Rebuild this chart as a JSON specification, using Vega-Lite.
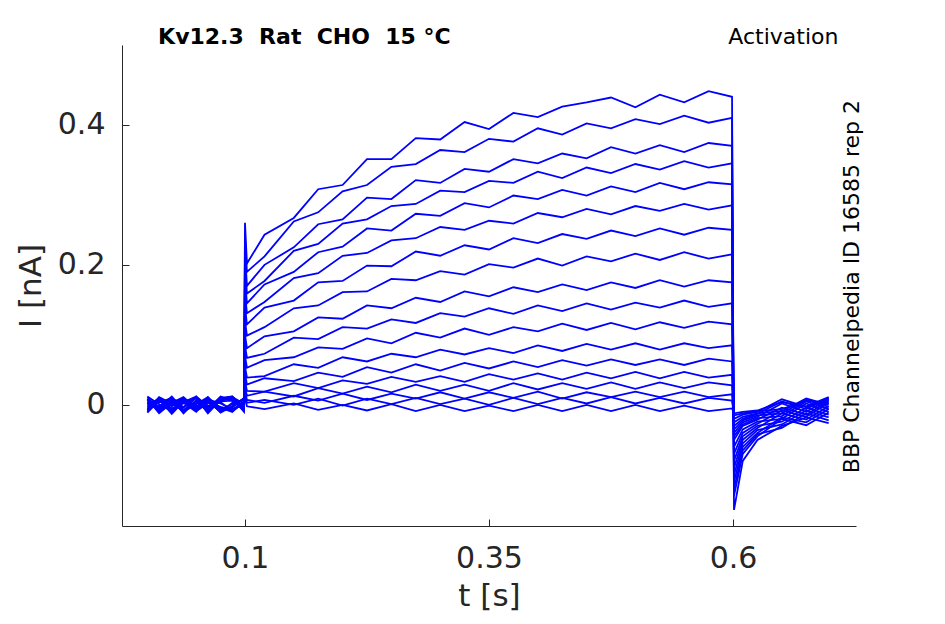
{
"$schema":"https://vega.github.io/schema/vega-lite/v6.json",
"width":734,"height":481,"autosize":{"type":"none"},
"padding":{"left":122,"top":45,"right":89,"bottom":98},
"config":{"view":{"stroke":null},"font":"DejaVu Sans"},
"datasets":{
"tr":[
{"t":0.0,"a":0.008,"b":-0.006,"c":0.004,"d":-0.01,"e":0.011,"f":0.002,"g":-0.004,"h":0.007,"i":-0.008,"j":0.001,"k":0.009,"l":-0.003,"m":0.005,"n":-0.011,"o":0.003,"p":0.012,"q":-0.007,"r":0.0},
{"t":0.012,"a":-0.009,"b":0.007,"c":-0.003,"d":0.01,"e":-0.006,"f":0.008,"g":0.003,"h":-0.01,"i":0.006,"j":-0.004,"k":-0.012,"l":0.009,"m":-0.002,"n":0.006,"o":-0.008,"p":0.001,"q":0.011,"r":-0.005},
{"t":0.025,"a":0.006,"b":-0.011,"c":0.009,"d":-0.002,"e":0.004,"f":-0.013,"g":0.01,"h":0.002,"i":-0.005,"j":0.012,"k":0.003,"l":-0.008,"m":0.01,"n":-0.001,"o":0.007,"p":-0.009,"q":0.002,"r":0.008},
{"t":0.037,"a":-0.004,"b":0.01,"c":-0.012,"d":0.006,"e":-0.009,"f":0.005,"g":-0.011,"h":0.009,"i":0.002,"j":-0.007,"k":0.011,"l":0.004,"m":-0.01,"n":0.008,"o":-0.003,"p":0.006,"q":-0.009,"r":0.003},
{"t":0.05,"a":0.011,"b":-0.002,"c":0.007,"d":-0.008,"e":0.012,"f":-0.004,"g":0.006,"h":-0.007,"i":0.01,"j":0.003,"k":-0.006,"l":0.012,"m":0.001,"n":-0.009,"o":0.01,"p":-0.002,"q":0.006,"r":-0.01},
{"t":0.062,"a":-0.007,"b":0.004,"c":-0.01,"d":0.009,"e":-0.002,"f":0.011,"g":-0.006,"h":0.003,"i":-0.012,"j":0.005,"k":0.008,"l":-0.004,"m":0.011,"n":0.002,"o":-0.01,"p":0.007,"q":-0.003,"r":0.009},
{"t":0.075,"a":0.005,"b":-0.009,"c":0.011,"d":-0.005,"e":0.008,"f":-0.008,"g":0.012,"h":-0.003,"i":0.007,"j":-0.01,"k":0.002,"l":0.01,"m":-0.007,"n":0.004,"o":0.008,"p":-0.011,"q":0.005,"r":-0.004},
{"t":0.087,"a":0.011,"b":-0.002,"c":0.007,"d":-0.008,"e":0.012,"f":-0.004,"g":0.006,"h":-0.007,"i":0.01,"j":0.003,"k":-0.006,"l":0.012,"m":0.001,"n":-0.009,"o":0.01,"p":-0.002,"q":0.006,"r":-0.01},
{"t":0.099,"a":0.002,"b":0.009,"c":-0.006,"d":0.004,"e":-0.003,"f":0.01,"g":-0.008,"h":0.005,"i":-0.01,"j":0.007,"k":0.0,"l":-0.005,"m":0.008,"n":0.003,"o":-0.006,"p":0.009,"q":-0.002,"r":0.005},
{"t":0.1,"a":0.26,"b":0.24,"c":0.22,"d":0.2,"e":0.18,"f":0.16,"g":0.14,"h":0.12,"i":0.1,"j":0.085,"k":0.07,"l":0.055,"m":0.045,"n":0.035,"o":0.025,"p":0.02,"q":0.015,"r":0.01},
{"t":0.102,"a":0.202,"b":0.19,"c":0.17,"d":0.159,"e":0.145,"f":0.131,"g":0.115,"h":0.099,"i":0.081,"j":0.067,"k":0.053,"l":0.039,"m":0.029,"n":0.02,"o":0.013,"p":0.007,"q":0.003,"r":-0.002},
{"t":0.12,"a":0.243,"b":0.212,"c":0.2,"d":0.177,"e":0.172,"f":0.147,"g":0.139,"h":0.111,"i":0.098,"j":0.073,"k":0.064,"l":0.041,"m":0.038,"n":0.019,"o":0.019,"p":0.003,"q":0.007,"r":-0.006},
{"t":0.15,"a":0.267,"b":0.262,"c":0.225,"d":0.22,"e":0.19,"f":0.181,"g":0.149,"h":0.138,"i":0.105,"j":0.096,"k":0.068,"l":0.058,"m":0.034,"n":0.031,"o":0.012,"p":0.013,"q":0.0,"r":0.002},
{"t":0.175,"a":0.308,"b":0.275,"c":0.258,"d":0.23,"e":0.218,"f":0.188,"g":0.175,"h":0.142,"i":0.125,"j":0.094,"k":0.082,"l":0.053,"m":0.046,"n":0.024,"o":0.024,"p":0.006,"q":0.009,"r":-0.007},
{"t":0.2,"a":0.314,"b":0.305,"c":0.265,"d":0.259,"e":0.226,"f":0.213,"g":0.177,"h":0.161,"i":0.123,"j":0.111,"k":0.08,"l":0.068,"m":0.04,"n":0.035,"o":0.016,"p":0.016,"q":-0.001,"r":0.0},
{"t":0.225,"a":0.351,"b":0.314,"c":0.296,"d":0.265,"e":0.252,"f":0.217,"g":0.199,"h":0.162,"i":0.142,"j":0.109,"k":0.095,"l":0.062,"m":0.054,"n":0.03,"o":0.026,"p":0.007,"q":0.009,"r":-0.008},
{"t":0.25,"a":0.351,"b":0.34,"c":0.294,"d":0.284,"e":0.249,"f":0.235,"g":0.198,"h":0.18,"i":0.138,"j":0.122,"k":0.088,"l":0.073,"m":0.046,"n":0.04,"o":0.018,"p":0.016,"q":0.001,"r":0.001},
{"t":0.275,"a":0.381,"b":0.344,"c":0.321,"d":0.287,"e":0.273,"f":0.238,"g":0.219,"h":0.178,"i":0.153,"j":0.117,"k":0.103,"l":0.068,"m":0.058,"n":0.033,"o":0.029,"p":0.009,"q":0.01,"r":-0.009},
{"t":0.3,"a":0.379,"b":0.364,"c":0.317,"d":0.306,"e":0.27,"f":0.254,"g":0.213,"h":0.191,"i":0.147,"j":0.131,"k":0.096,"l":0.079,"m":0.049,"n":0.041,"o":0.02,"p":0.018,"q":0.001,"r":0.0},
{"t":0.325,"a":0.404,"b":0.361,"c":0.337,"d":0.304,"e":0.288,"f":0.25,"g":0.228,"h":0.186,"i":0.162,"j":0.126,"k":0.109,"l":0.072,"m":0.06,"n":0.033,"o":0.029,"p":0.009,"q":0.009,"r":-0.009},
{"t":0.35,"a":0.394,"b":0.38,"c":0.333,"d":0.32,"e":0.282,"f":0.263,"g":0.222,"h":0.201,"i":0.155,"j":0.138,"k":0.1,"l":0.081,"m":0.052,"n":0.044,"o":0.02,"p":0.018,"q":0.0,"r":-0.001},
{"t":0.375,"a":0.417,"b":0.376,"c":0.351,"d":0.317,"e":0.299,"f":0.259,"g":0.238,"h":0.196,"i":0.168,"j":0.13,"k":0.111,"l":0.074,"m":0.062,"n":0.036,"o":0.031,"p":0.01,"q":0.01,"r":-0.009},
{"t":0.4,"a":0.411,"b":0.395,"c":0.345,"d":0.333,"e":0.294,"f":0.274,"g":0.231,"h":0.209,"i":0.161,"j":0.142,"k":0.105,"l":0.085,"m":0.054,"n":0.045,"o":0.022,"p":0.019,"q":0.001,"r":0.0},
{"t":0.425,"a":0.426,"b":0.386,"c":0.359,"d":0.324,"e":0.307,"f":0.268,"g":0.244,"h":0.199,"i":0.172,"j":0.134,"k":0.116,"l":0.077,"m":0.064,"n":0.036,"o":0.031,"p":0.009,"q":0.01,"r":-0.009},
{"t":0.45,"a":0.432,"b":0.402,"c":0.352,"d":0.339,"e":0.299,"f":0.28,"g":0.237,"h":0.212,"i":0.164,"j":0.145,"k":0.107,"l":0.087,"m":0.056,"n":0.046,"o":0.023,"p":0.018,"q":0.002,"r":0.0},
{"t":0.475,"a":0.439,"b":0.395,"c":0.368,"d":0.331,"e":0.312,"f":0.272,"g":0.249,"h":0.205,"i":0.175,"j":0.136,"k":0.117,"l":0.079,"m":0.065,"n":0.038,"o":0.032,"p":0.011,"q":0.011,"r":-0.009},
{"t":0.5,"a":0.425,"b":0.408,"c":0.359,"d":0.344,"e":0.304,"f":0.284,"g":0.241,"h":0.216,"i":0.167,"j":0.146,"k":0.108,"l":0.088,"m":0.057,"n":0.047,"o":0.023,"p":0.019,"q":0.002,"r":0.0},
{"t":0.525,"a":0.443,"b":0.401,"c":0.371,"d":0.336,"e":0.317,"f":0.277,"g":0.252,"h":0.207,"i":0.178,"j":0.139,"k":0.118,"l":0.079,"m":0.065,"n":0.038,"o":0.032,"p":0.011,"q":0.01,"r":-0.009},
{"t":0.55,"a":0.432,"b":0.413,"c":0.361,"d":0.348,"e":0.308,"f":0.287,"g":0.243,"h":0.218,"i":0.169,"j":0.149,"k":0.11,"l":0.088,"m":0.057,"n":0.047,"o":0.024,"p":0.019,"q":0.002,"r":-0.001},
{"t":0.575,"a":0.448,"b":0.403,"c":0.374,"d":0.339,"e":0.318,"f":0.279,"g":0.253,"h":0.209,"i":0.178,"j":0.14,"k":0.119,"l":0.081,"m":0.066,"n":0.039,"o":0.032,"p":0.011,"q":0.01,"r":-0.009},
{"t":0.599,"a":0.44,"b":0.41,"c":0.37,"d":0.345,"e":0.315,"f":0.285,"g":0.25,"h":0.215,"i":0.175,"j":0.145,"k":0.115,"l":0.085,"m":0.062,"n":0.043,"o":0.028,"p":0.015,"q":0.006,"r":-0.005},
{"t":0.601,"a":-0.15,"b":-0.13,"c":-0.12,"d":-0.11,"e":-0.1,"f":-0.09,"g":-0.08,"h":-0.07,"i":-0.06,"j":-0.05,"k":-0.045,"l":-0.04,"m":-0.035,"n":-0.03,"o":-0.025,"p":-0.02,"q":-0.015,"r":-0.012},
{"t":0.61,"a":-0.08,"b":-0.07,"c":-0.065,"d":-0.06,"e":-0.055,"f":-0.05,"g":-0.045,"h":-0.04,"i":-0.035,"j":-0.03,"k":-0.028,"l":-0.025,"m":-0.022,"n":-0.02,"o":-0.017,"p":-0.014,"q":-0.012,"r":-0.01},
{"t":0.625,"a":-0.05,"b":-0.045,"c":-0.042,"d":-0.04,"e":-0.036,"f":-0.033,"g":-0.03,"h":-0.027,"i":-0.024,"j":-0.021,"k":-0.019,"l":-0.017,"m":-0.015,"n":-0.013,"o":-0.012,"p":-0.01,"q":-0.009,"r":-0.008},
{"t":0.65,"a":-0.03,"b":-0.02,"c":-0.033,"d":-0.018,"e":-0.028,"f":-0.012,"g":-0.024,"h":-0.008,"i":-0.02,"j":-0.004,"k":-0.016,"l":0.002,"m":-0.012,"n":0.005,"o":-0.009,"p":0.008,"q":-0.006,"r":0.004},
{"t":0.675,"a":-0.018,"b":-0.029,"c":-0.012,"d":-0.025,"e":-0.008,"f":-0.021,"g":-0.004,"h":-0.017,"i":0.002,"j":-0.014,"k":0.005,"l":-0.01,"m":0.007,"n":-0.006,"o":0.009,"p":-0.003,"q":0.006,"r":-0.002},
{"t":0.698,"a":-0.026,"b":-0.011,"c":-0.022,"d":-0.006,"e":-0.018,"f":-0.002,"g":-0.014,"h":0.003,"i":-0.01,"j":0.006,"k":-0.006,"l":0.008,"m":-0.003,"n":0.01,"o":0.0,"p":0.007,"q":0.003,"r":0.011}
],
"labels":[
{"x":0.011,"y":0.508,"txt":"Kv12.3\u00a0\u00a0Rat\u00a0\u00a0CHO\u00a0\u00a015 °C","kind":"title"},
{"x":0.708,"y":0.508,"txt":"Activation","kind":"act"},
{"x":0.722,"y":0.169,"txt":"BBP Channelpedia ID 16585 rep 2","kind":"side"}
]},
"layer":[
{"data":{"name":"tr"},
"transform":[{"fold":["a","b","c","d","e","f","g","h","i","j","k","l","m","n","o","p","q","r"],"as":["trace","I"]}],
"mark":{"type":"line","color":"#0000ff","strokeWidth":1.8,"clip":true},
"encoding":{
"x":{"field":"t","type":"quantitative","scale":{"domain":[-0.026,0.726],"nice":false,"zero":false},
"axis":{"values":[0.1,0.35,0.6],"format":"~g","title":"t [s]","titleFontSize":31,"titleFontWeight":"normal","titleColor":"#262626","titlePadding":8,"labelFontSize":30,"labelColor":"#262626","labelPadding":24,"tickSize":-7,"tickColor":"#262626","domainColor":"#262626","grid":false}},
"y":{"field":"I","type":"quantitative","scale":{"domain":[-0.173,0.514],"nice":false,"zero":false},
"axis":{"values":[0,0.2,0.4],"format":"~g","title":"I [nA]","titleFontSize":31,"titleFontWeight":"normal","titleColor":"#262626","titlePadding":10,"labelFontSize":30,"labelColor":"#262626","labelPadding":24,"tickSize":-7,"tickColor":"#262626","domainColor":"#262626","grid":false}},
"detail":{"field":"trace"}}},
{"data":{"name":"labels"},"transform":[{"filter":"datum.kind=='title'"}],
"mark":{"type":"text","align":"left","baseline":"bottom","fontSize":22,"fontWeight":"bold","color":"black"},
"encoding":{"x":{"field":"x","type":"quantitative"},"y":{"field":"y","type":"quantitative"},"text":{"field":"txt"}}},
{"data":{"name":"labels"},"transform":[{"filter":"datum.kind=='act'"}],
"mark":{"type":"text","align":"right","baseline":"bottom","fontSize":22,"color":"black"},
"encoding":{"x":{"field":"x","type":"quantitative"},"y":{"field":"y","type":"quantitative"},"text":{"field":"txt"}}},
{"data":{"name":"labels"},"transform":[{"filter":"datum.kind=='side'"}],
"mark":{"type":"text","align":"center","baseline":"middle","angle":270,"fontSize":22,"color":"black"},
"encoding":{"x":{"field":"x","type":"quantitative"},"y":{"field":"y","type":"quantitative"},"text":{"field":"txt"}}}
]
}
